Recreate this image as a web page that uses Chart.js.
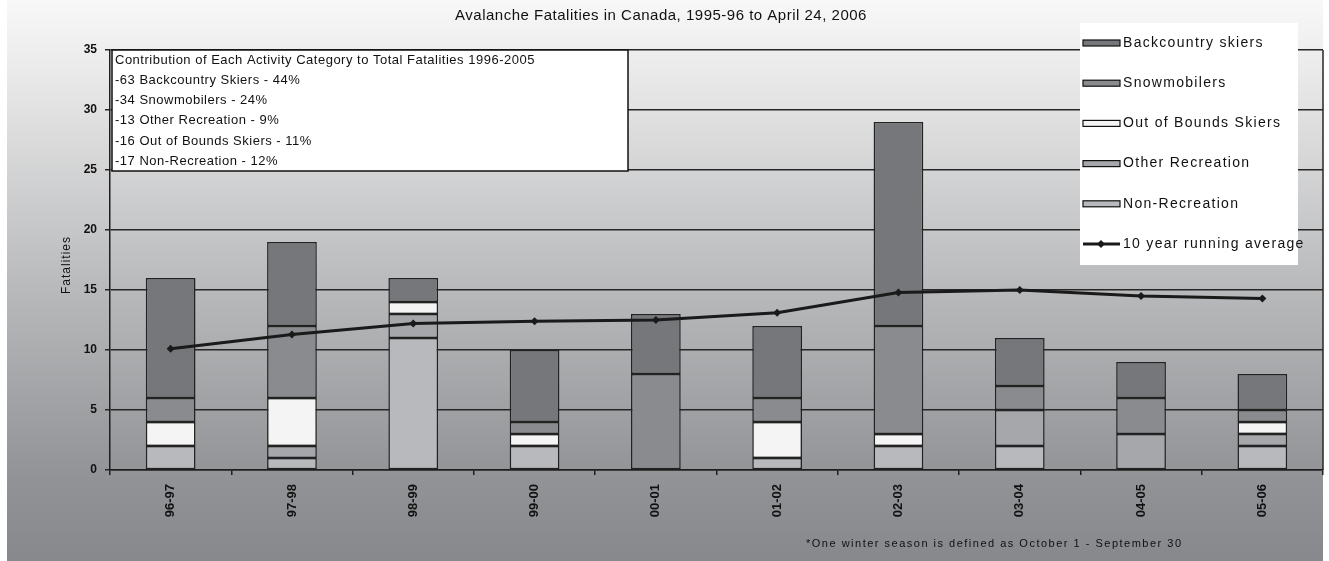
<!DOCTYPE html>
<html>
<head>
<meta charset="utf-8">
<script src="https://cdn.jsdelivr.net/npm/chart.js@4/dist/chart.umd.min.js"></script>
<style>
  html, body { margin: 0; padding: 0; background: #ffffff; }
  canvas { display: block; }
</style>
</head>
<body>
<canvas id="chart" width="1329" height="561"></canvas>
<script>
// Winter seasons (Oct 1 - Sep 30)
const seasons = ['96-97', '97-98', '98-99', '99-00', '00-01', '01-02', '02-03', '03-04', '04-05', '05-06'];

// Fatalities per season by activity category
const nonRecreation   = [2, 1, 11, 2, 0, 1, 2, 2, 0, 2];
const otherRecreation = [0, 1, 2, 0, 0, 0, 0, 3, 3, 1];
const outOfBounds     = [2, 4, 1, 1, 0, 3, 1, 0, 0, 1];
const snowmobilers    = [2, 6, 0, 1, 8, 2, 9, 2, 3, 1];
const backcountry     = [10, 7, 2, 6, 5, 6, 17, 4, 3, 3];

// 10 year running average of total fatalities
const runningAverage  = [10.1, 11.3, 12.2, 12.4, 12.5, 13.1, 14.8, 15.0, 14.5, 14.3];

const yTicks = [0, 5, 10, 15, 20, 25, 30, 35];

const titleText = 'Avalanche Fatalities in Canada, 1995-96 to April 24, 2006';
const yTitle = 'Fatalities';
const summaryLines = [
  'Contribution of Each Activity Category to Total Fatalities 1996-2005',
  '-63 Backcountry Skiers - 44%',
  '-34 Snowmobilers - 24%',
  '-13 Other Recreation - 9%',
  '-16 Out of Bounds Skiers - 11%',
  '-17 Non-Recreation - 12%'
];
const footnote = '*One winter season is defined as October 1 - September 30';

const FONT = "'Liberation Sans', Arial, sans-serif";
const INK = '#111111';

function withSpacing(ctx, px) {
  if ('letterSpacing' in ctx) ctx.letterSpacing = px + 'px';
}

// Gradient backdrop behind the whole chart, plus the plot's right edge
const backdrop = {
  id: 'backdrop',
  beforeDraw(chart) {
    const { ctx, height } = chart;
    const g = ctx.createLinearGradient(0, 0, 0, height);
    g.addColorStop(0, '#f8f8f8');
    g.addColorStop(0.12, '#ebebeb');
    g.addColorStop(0.5, '#babbbd');
    g.addColorStop(0.85, '#929396');
    g.addColorStop(1, '#87888b');
    ctx.save();
    ctx.fillStyle = g;
    ctx.fillRect(7, 0, 1316, height);
    ctx.restore();
  },
  beforeDatasetsDraw(chart) {
    const { ctx, chartArea: a } = chart;
    ctx.save();
    ctx.strokeStyle = '#262626';
    ctx.lineWidth = 1.5;
    ctx.beginPath();
    ctx.moveTo(a.right, a.top);
    ctx.lineTo(a.right, a.bottom);
    ctx.stroke();
    ctx.restore();
  }
};

// Title, axis title, summary box, legend and footnote
const annotations = {
  id: 'annotations',
  afterDraw(chart) {
    const { ctx, chartArea: a } = chart;
    ctx.save();
    ctx.fillStyle = INK;

    // title
    ctx.font = '15px ' + FONT;
    withSpacing(ctx, 0.5);
    ctx.textAlign = 'center';
    ctx.textBaseline = 'middle';
    ctx.fillText(titleText, 661, 16);

    // y axis title
    ctx.save();
    ctx.translate(67, 265);
    ctx.rotate(-Math.PI / 2);
    ctx.font = '12px ' + FONT;
    withSpacing(ctx, 1);
    ctx.fillText(yTitle, 0, 0);
    ctx.restore();

    // summary box
    ctx.fillStyle = '#ffffff';
    ctx.fillRect(a.left + 2, a.top, 516, 121);
    ctx.strokeStyle = INK;
    ctx.lineWidth = 1.5;
    ctx.strokeRect(a.left + 2, a.top, 516, 121);
    ctx.fillStyle = INK;
    ctx.font = '13px ' + FONT;
    withSpacing(ctx, 0.5);
    ctx.textAlign = 'left';
    summaryLines.forEach((line, i) => {
      ctx.fillText(line, a.left + 5, a.top + 10 + i * 20.3);
    });

    // legend
    const lx = 1080, ly = 23;
    ctx.fillStyle = '#ffffff';
    ctx.fillRect(lx, ly, 218, 242);
    const ds = chart.data.datasets;
    const order = [4, 3, 2, 1, 0, 5];
    ctx.font = '14px ' + FONT;
    withSpacing(ctx, 1.3);
    order.forEach((idx, i) => {
      const d = ds[idx];
      const cy = 43 + i * 40.2;
      if (d.type === 'line') {
        ctx.strokeStyle = d.borderColor;
        ctx.lineWidth = 3;
        ctx.beginPath();
        ctx.moveTo(1083, cy);
        ctx.lineTo(1120, cy);
        ctx.stroke();
        ctx.fillStyle = d.borderColor;
        ctx.beginPath();
        ctx.moveTo(1101, cy - 4);
        ctx.lineTo(1105, cy);
        ctx.lineTo(1101, cy + 4);
        ctx.lineTo(1097, cy);
        ctx.closePath();
        ctx.fill();
      } else {
        ctx.fillStyle = d.backgroundColor;
        ctx.fillRect(1083, cy - 3, 37, 6);
        ctx.strokeStyle = INK;
        ctx.lineWidth = 1.2;
        ctx.strokeRect(1083, cy - 3, 37, 6);
      }
      ctx.fillStyle = INK;
      ctx.fillText(d.label, 1123, cy);
    });

    // footnote
    ctx.font = '11px ' + FONT;
    withSpacing(ctx, 1.5);
    ctx.fillText(footnote, 806, 544);
    ctx.restore();
  }
};

new Chart(document.getElementById('chart'), {
  data: {
    labels: seasons,
    datasets: [
      { type: 'bar', label: 'Non-Recreation', data: nonRecreation, backgroundColor: '#b8b9bd', stack: 'fatalities', order: 1 },
      { type: 'bar', label: 'Other Recreation', data: otherRecreation, backgroundColor: '#a6a7ab', stack: 'fatalities', order: 1 },
      { type: 'bar', label: 'Out of Bounds Skiers', data: outOfBounds, backgroundColor: '#f4f4f4', stack: 'fatalities', order: 1 },
      { type: 'bar', label: 'Snowmobilers', data: snowmobilers, backgroundColor: '#8a8b8f', stack: 'fatalities', order: 1 },
      { type: 'bar', label: 'Backcountry skiers', data: backcountry, backgroundColor: '#76777b', stack: 'fatalities', order: 1 },
      {
        type: 'line', label: '10 year running average', data: runningAverage, stack: 'average', order: 0,
        borderColor: '#1a1a1a', backgroundColor: '#1a1a1a', borderWidth: 3, tension: 0,
        pointStyle: 'rectRot', pointRadius: 4, pointBorderWidth: 0, pointBackgroundColor: '#1a1a1a'
      }
    ]
  },
  options: {
    responsive: false,
    animation: false,
    devicePixelRatio: 1,
    layout: { padding: { top: 50, right: 6, left: 0, bottom: 0 } },
    datasets: {
      bar: {
        borderColor: '#222222',
        borderWidth: 1.5,
        borderSkipped: false,
        categoryPercentage: 1.0,
        barPercentage: 0.41
      }
    },
    plugins: {
      legend: { display: false },
      tooltip: { enabled: false },
      title: { display: false }
    },
    scales: {
      x: {
        stacked: true,
        offset: true,
        grid: { display: true, drawOnChartArea: false, drawTicks: true, tickLength: 5, color: '#1e1e1e', lineWidth: 1.5, offset: true },
        border: { display: true, color: '#1e1e1e', width: 1.5 },
        ticks: { autoSkip: false, minRotation: 90, maxRotation: 90, padding: 9, color: '#111', font: { family: FONT, size: 13, weight: 'bold' } },
        afterFit(scale) { scale.height = 91; }
      },
      y: {
        stacked: true,
        min: 0,
        max: 35,
        afterBuildTicks(scale) { scale.ticks = yTicks.map(v => ({ value: v })); },
        grid: { color: '#262626', lineWidth: 1.5, tickLength: 5, drawTicks: true },
        border: { display: true, color: '#1e1e1e', width: 1.5 },
        ticks: { padding: 8, color: '#111', font: { family: FONT, size: 12, weight: 'bold' } },
        afterFit(scale) { scale.width = 110; }
      }
    }
  },
  plugins: [backdrop, annotations]
});
</script>
</body>
</html>
